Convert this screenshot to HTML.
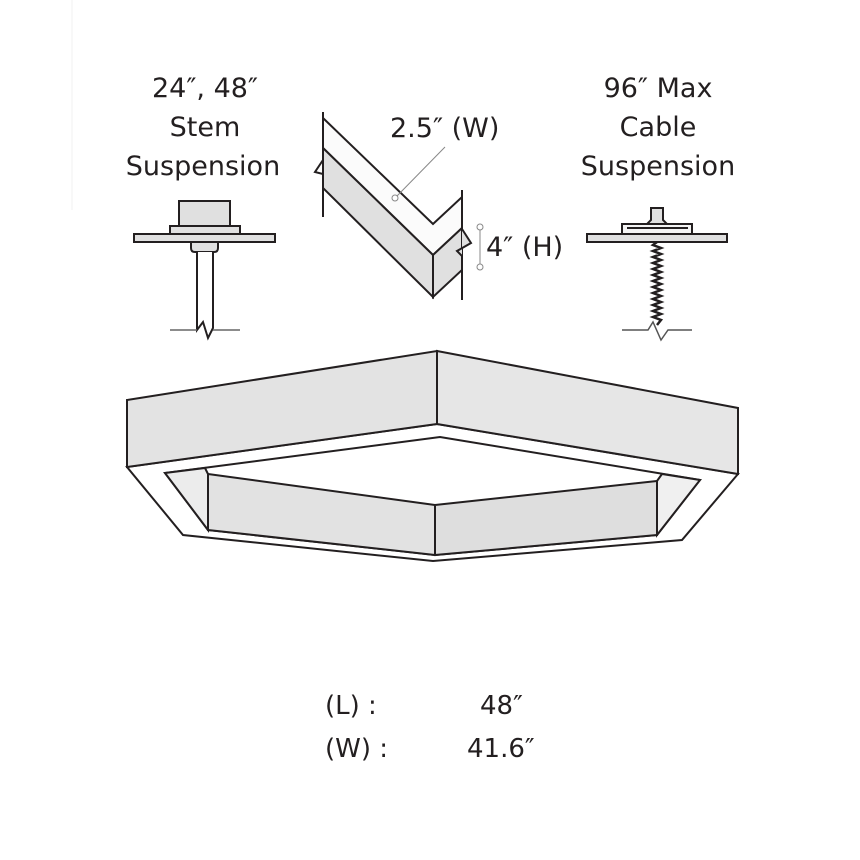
<!DOCTYPE html>
<html><head><meta charset="utf-8"><style>
html,body{margin:0;padding:0;background:#fff;}
svg{display:block;}
text{font-family:"DejaVu Sans","Liberation Sans",sans-serif;fill:#231f20;}
</style></head><body>
<svg width="860" height="860" viewBox="0 0 860 860" xmlns="http://www.w3.org/2000/svg">
<line x1="72" y1="0" x2="72" y2="210" stroke="#f2f2f2" stroke-width="1"/>
<g font-size="27" text-anchor="middle">
<text x="205" y="97">24″, 48″</text>
<text x="205" y="136">Stem</text>
<text x="203" y="175">Suspension</text>
<text x="658" y="97">96″ Max</text>
<text x="658" y="136">Cable</text>
<text x="658" y="175">Suspension</text>
</g>
<text x="390" y="137" font-size="27">2.5″ (W)</text>
<text x="486" y="256" font-size="27">4″ (H)</text>

<g stroke="#231f20" stroke-width="2" fill="#e0e0e0">
<rect x="179" y="201" width="51" height="25"/>
<rect x="170" y="226" width="70" height="8"/>
<rect x="134" y="234" width="141" height="8"/>
<path d="M191 242 H218 V248 Q218 252 214 252 H195 Q191 252 191 248 Z"/>
<path d="M197 252 V330 L203 322 L208 338 L213 328 V252" fill="#fff"/>
</g>
<path d="M170 330 H197 M213 330 H240" stroke="#666" stroke-width="1.5" fill="none"/>

<g stroke="#231f20" stroke-width="2" fill="#e0e0e0">
<path d="M651 208 H663 V220 L667 224 H647 L651 220 Z"/>
<path d="M622 234 V224 H692 V234" fill="#f4f4f4"/>
<line x1="627" y1="228" x2="688" y2="228"/>
<rect x="587" y="234" width="140" height="8"/>
</g>
<path d="M657 242 L653 245 L661 248 L653 251 L661 254 L653 257 L661 260 L653 263 L661 266 L653 269 L661 272 L653 275 L661 278 L653 281 L661 284 L653 287 L661 290 L653 293 L661 296 L653 299 L661 302 L653 305 L661 308 L653 311 L661 314 L653 317 L661 320 L657 325" stroke="#231f20" stroke-width="2.5" fill="none"/>
<path d="M622 330 H648 L653 322 L661 340 L668 330 H692" stroke="#555" stroke-width="1.5" fill="none"/>

<g stroke="#231f20" stroke-width="2" stroke-linejoin="miter">
<path d="M323 118 L433 224 L462 197 V228 L433 255 L323 148 Z" fill="#fbfbfb"/>
<path d="M323 148 L433 255 V297 L323 188 Z" fill="#e0e0e0"/>
<path d="M433 255 L462 228 V270 L433 297 Z" fill="#e0e0e0"/>
<line x1="323" y1="112" x2="323" y2="160" fill="none"/>
<path d="M323 160 L315 172 L323 174 V217" fill="none"/>
<line x1="462" y1="190" x2="462" y2="236" fill="none"/>
<path d="M462 229 L471 243 L457 251 L462 256" fill="#e0e0e0"/>
<line x1="462" y1="256" x2="462" y2="300"/>
</g>
<g stroke="#888" stroke-width="1" fill="#fff">
<line x1="396" y1="197" x2="445" y2="147"/>
<circle cx="395" cy="198" r="3"/>
<line x1="480" y1="229" x2="480" y2="266"/>
<circle cx="480" cy="227" r="3"/>
<circle cx="480" cy="267" r="3"/>
</g>

<g stroke="#231f20" stroke-width="2" stroke-linejoin="miter">
<path d="M127 467 L183 535 L433 561 L682 540 L738 474 L437 424 Z" fill="#fff"/>
<path d="M127 400 L437 351 L437 424 L127 467 Z" fill="#e3e3e3"/>
<path d="M437 351 L738 408 L738 474 L437 424 Z" fill="#e6e6e6"/>
<path d="M165 473 L440 437 L700 480 L657 535 L435 555 L208 530 Z" fill="#fff"/>
<path d="M165 473 L205 468 L208 474 L208 530 Z" fill="#ececec"/>
<path d="M700 480 L662 474 L657 481 L657 535 Z" fill="#f0f0f0"/>
<path d="M208 474 L435 505 L435 555 L208 530 Z" fill="#e2e2e2"/>
<path d="M435 505 L657 481 L657 535 L435 555 Z" fill="#dedede"/>
</g>

<g font-size="26">
<text x="325" y="714">(L) :</text>
<text x="480" y="714">48″</text>
<text x="325" y="757">(W) :</text>
<text x="467" y="757">41.6″</text>
</g>
</svg>
</body></html>
